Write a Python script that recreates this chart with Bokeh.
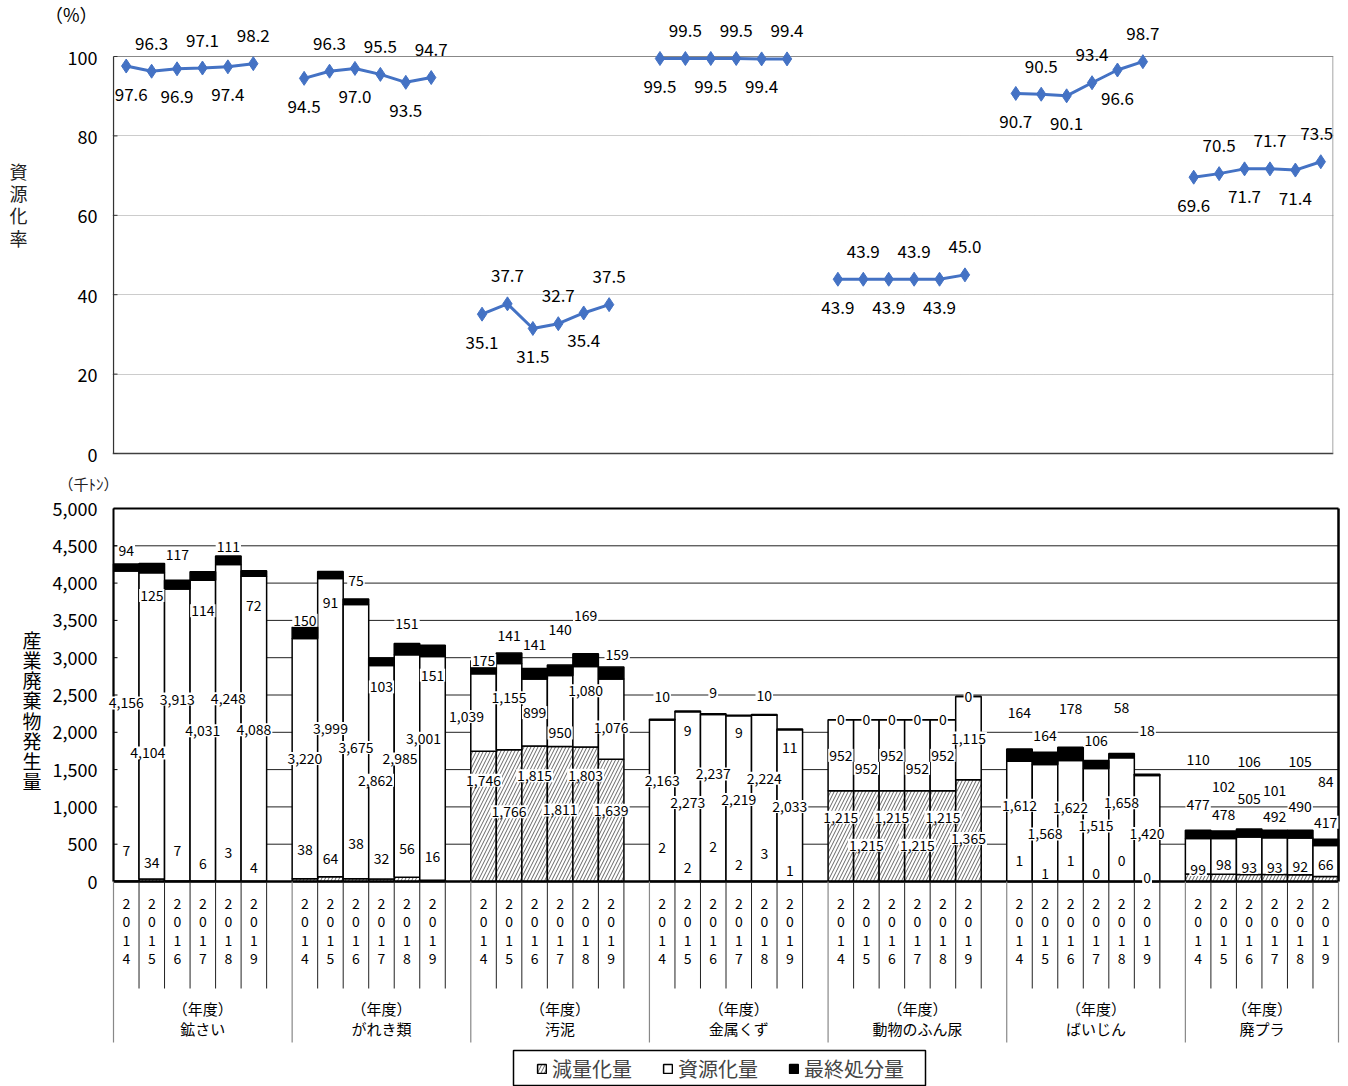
from bokeh.plotting import figure
from bokeh.models import (Range1d, FixedTicker, NumeralTickFormatter, LinearAxis,
                          Legend, LegendItem, ColumnDataSource)
from bokeh.layouts import column, row
from bokeh.embed import file_html
from bokeh.resources import INLINE
from bokeh.core.properties import value

FONT = "Noto Sans CJK JP"

# ---------------- data ----------------
categories = ["鉱さい", "がれき類", "汚泥", "金属くず", "動物のふん尿", "ばいじん", "廃プラ"]
years = ["2014", "2015", "2016", "2017", "2018", "2019"]

# 減量化量 (thousand t)
reduction = [
    [7, 34, 7, 6, 3, 4],
    [38, 64, 38, 32, 56, 16],
    [1746, 1766, 1815, 1811, 1803, 1639],
    [2, 2, 2, 2, 3, 1],
    [1215, 1215, 1215, 1215, 1215, 1365],
    [1, 1, 1, 0, 0, 0],
    [99, 98, 93, 93, 92, 66],
]
# 資源化量
resource = [
    [4156, 4104, 3913, 4031, 4248, 4088],
    [3220, 3999, 3675, 2862, 2985, 3001],
    [1039, 1155, 899, 950, 1080, 1076],
    [2163, 2273, 2237, 2219, 2224, 2033],
    [952, 952, 952, 952, 952, 1115],
    [1612, 1568, 1622, 1515, 1658, 1420],
    [477, 478, 505, 492, 490, 417],
]
# 最終処分量
final = [
    [94, 125, 117, 114, 111, 72],
    [150, 91, 75, 103, 151, 151],
    [175, 141, 141, 140, 169, 159],
    [10, 9, 9, 9, 10, 11],
    [0, 0, 0, 0, 0, 0],
    [164, 164, 178, 106, 58, 18],
    [110, 102, 106, 101, 105, 84],
]
# 資源化率 (%)
rate = [
    [97.6, 96.3, 96.9, 97.1, 97.4, 98.2],
    [94.5, 96.3, 97.0, 95.5, 93.5, 94.7],
    [35.1, 37.7, 31.5, 32.7, 35.4, 37.5],
    [99.5, 99.5, 99.5, 99.5, 99.4, 99.4],
    [43.9, 43.9, 43.9, 43.9, 43.9, 45.0],
    [90.7, 90.5, 90.1, 93.4, 96.6, 98.7],
    [69.6, 70.5, 71.7, 71.7, 71.4, 73.5],
]

# ---------------- label layout (styling, separate from data) ----------------
LABEL_ANCHOR = {
    "鉱さい":       dict(fin="top", res="mid", red="base"),
    "がれき類":     dict(fin="top", res="mid", red="base"),
    "汚泥":         dict(fin="top", res="mid", red="mid"),
    "金属くず":     dict(fin="top", res="mid", red="base"),
    "動物のふん尿": dict(fin="top", res="mid", red="mid"),
    "ばいじん":     dict(fin="top", res="mid", red="base"),
    "廃プラ":       dict(fin="top", res="top", red="base"),
}
LABEL_SHIFT = {  # upward shift in screen pixels
    "鉱さい":       dict(fin=[13, -32, 26, -39, 10, -35], res=[23, -27, 36, 0, 24, -1], red=[31, 19, 31, 18, 29, 14]),
    "がれき類":     dict(fin=[7, -31, 18, -29, 20, -30], res=[0, -1, -6, -8, 7, 30], red=[32, 23, 38, 23, 33, 25]),
    "汚泥":         dict(fin=[0, 18, 24, 36, 38, 13], res=[-4, 9, 0, -22, 16, -8], red=[36, 4, 38, 4, 39, 10]),
    "金属くず":     dict(fin=[23, -19, 21, -17, 19, -19], res=[20, -6, 24, -1, 20, -1], red=[34, 14, 35, 17, 28, 11]),
    "動物のふん尿": dict(fin=[0, 0, 0, 0, 0, 0], res=[0, -13, 0, -13, 0, 0], red=[19, -9, 19, -9, 19, -8]),
    "ばいじん":     dict(fin=[36, 17, 39, 20, 46, 44], res=[16, -11, 13, -1, 17, -5], red=[21, 8, 21, 8, 21, 4]),
    "廃プラ":       dict(fin=[71, 44, 67, 40, 69, 58], res=[26, 16, 30, 14, 24, 17], red=[12, 17, 14, 14, 15, 17]),
}
LABEL_NUDGE_X = {("汚泥", "res", 0): -17, ("鉱さい", "res", 1): -4, ("がれき類", "res", 3): -6,
                 ("がれき類", "res", 4): -7, ("がれき類", "res", 5): -9, ("汚泥", "fin", 5): 6}

GROUP = 7
NSLOT = 48
BLUE = "#4472C4"
PAGE_W = 1348
LEFT_W = 30


def slot(g, i):
    return g * GROUP + i


def strip(w, h):
    f = figure(width=w, height=h, output_backend="svg", toolbar_location=None,
               x_range=Range1d(0, w), y_range=Range1d(h, 0),
               x_axis_location=None, y_axis_location=None, min_border=0)
    f.outline_line_color = None
    f.grid.visible = False
    return f


def strip_text(f, x, y, txt, size):
    f.text(x=[x], y=[y], text=[txt], text_font=value(FONT), text_font_size=size,
           text_align="center", text_baseline="middle", text_color="#222222")


# ---------------- top chart (rate) ----------------
H1 = 468
T_SW = 1220 / NSLOT
T_PPU = 3.97
T_FL = 112
T_FW = 1333 - T_FL
T_L = T_FL - LEFT_W
T_R = PAGE_W - LEFT_W - T_L - T_FW
T_B = H1 - 455
T_Y0 = -0.5
T_Y1 = T_Y0 + 455 / T_PPU
T_X0 = -0.5 - (113 - T_FL) / T_SW
T_X1 = T_X0 + T_FW / T_SW
PCT_TICK = 110.8                # position of the "（%）" unit caption on the rate axis

p1 = figure(width=PAGE_W - LEFT_W, height=H1, output_backend="svg", toolbar_location=None,
            x_range=Range1d(T_X0, T_X1), y_range=Range1d(T_Y0, T_Y1),
            x_axis_location=None, min_border_left=T_L, min_border_right=T_R,
            min_border_top=0, min_border_bottom=T_B)
p1.outline_line_color = None
p1.xgrid.visible = False
p1.ygrid.ticker = FixedTicker(ticks=[20, 40, 60, 80])
p1.ygrid.grid_line_color = "#999999"
p1.ygrid.grid_line_dash = "1 1"
rate_ticks = [0, 20, 40, 60, 80, 100]
yax = p1.yaxis[0]
yax.ticker = FixedTicker(ticks=rate_ticks + [PCT_TICK])
yax.bounds = (0, PCT_TICK)
yax.major_label_overrides = {PCT_TICK: "（%）"}
yax.major_label_text_font = FONT
yax.major_label_text_font_size = "18px"
yax.major_label_text_color = "black"
yax.major_label_standoff = 15
yax.major_tick_in = 0
yax.major_tick_out = 0
yax.major_tick_line_color = None
yax.minor_tick_line_color = None
yax.axis_line_color = None

p1.segment(x0=[-0.5, -0.5, T_X0, NSLOT - 0.52], y0=[0, 100, 0, 0],
           x1=[-0.5, NSLOT - 0.5, NSLOT - 0.5, NSLOT - 0.52], y1=[100, 100, 0, 100],
           line_color=["#333333", "#888888", "#404040", "#888888"], line_width=[1.3, 1, 1.5, 1])
p1.segment(x0=[-0.5] * len(rate_ticks), y0=rate_ticks, x1=[-0.5 + 4 / T_SW] * len(rate_ticks),
           y1=rate_ticks, line_color="#333333", line_width=1)

lx, ly, lt, lo, lxo = [], [], [], [], []
for g in range(len(categories)):
    xs = [slot(g, i) for i in range(6)]
    p1.line(xs, rate[g], line_color=BLUE, line_width=3)
    p1.scatter(xs, rate[g], marker="diamond", size=14, fill_color=BLUE, line_color=BLUE)
    for i in range(6):
        lx.append(xs[i]); ly.append(rate[g][i]); lt.append(f"{rate[g][i]:.1f}")
        lo.append(28 if i % 2 == 0 else -28)
        lxo.append(5 if xs[i] == 0 else (-4 if xs[i] == NSLOT - 1 else 0))
p1.text(x="x", y="y", text="t", y_offset="o", x_offset="xo",
        source=ColumnDataSource(dict(x=lx, y=ly, t=lt, o=lo, xo=lxo)),
        text_font=value(FONT), text_font_size="17px", text_color="black",
        text_align="center", text_baseline="middle")

left_top = strip(LEFT_W, H1)
for k, ch in enumerate("資源化率"):
    strip_text(left_top, 18, 175 + 23 * k, ch, "18px")

# ---------------- middle strip ----------------
P2_Y = 494
s_mid = strip(PAGE_W, P2_Y - H1)
strip_text(s_mid, 88, 483 - H1, "（千ﾄﾝ）", "15px")

# ---------------- bottom chart (amounts) ----------------
H2 = 1086 - P2_Y
B_SW = 1225 / NSLOT
B_PPU = 373 / 5000
B_FL = 100
B_FW = 1340 - B_FL
B_R = PAGE_W - B_FL - B_FW
B_X0 = -0.5 - (113 - B_FL) / B_SW
B_X1 = B_X0 + B_FW / B_SW
B_Y0 = -(1086 - 881) / B_PPU
B_Y1 = 5000 + (508 - P2_Y) / B_PPU


def bx(px):
    return -0.5 + (px - 113) / B_SW


def by(py):
    return (881 - py) / B_PPU


p2 = figure(width=PAGE_W, height=H2, output_backend="svg", toolbar_location=None,
            x_range=Range1d(B_X0, B_X1), y_range=Range1d(B_Y0, B_Y1),
            x_axis_location=None, min_border_left=B_FL, min_border_right=B_R,
            min_border_top=0, min_border_bottom=0)
p2.outline_line_color = None
p2.grid.visible = False
amount_ticks = list(range(0, 5001, 500))
yb = p2.yaxis[0]
yb.ticker = FixedTicker(ticks=amount_ticks)
yb.bounds = (0, 5000)
yb.formatter = NumeralTickFormatter(format="0,0")
yb.major_label_text_font = FONT
yb.major_label_text_font_size = "18px"
yb.major_label_text_color = "black"
yb.major_label_standoff = 3
yb.major_tick_in = 0
yb.major_tick_out = 0
yb.major_tick_line_color = None
yb.minor_tick_line_color = None
yb.axis_line_color = None
yb.axis_label_text_font = FONT
yb.axis_label_text_font_style = "normal"
yb.axis_label_text_font_size = "19px"
yb.axis_label_text_color = "black"
if "axis_label_orientation" in LinearAxis.properties():
    # upright stacked characters; trailing blank lines lift the block to sit beside the bars
    yb.axis_label = "\n".join("産業廃棄物発生量") + "\n\u3000" * 8
    yb.axis_label_orientation = "horizontal"
    yb.axis_label_text_line_height = 0.745
    yb.axis_label_standoff = 8
else:
    yb.axis_label = "産業廃棄物発生量"
    yb.axis_label_standoff = 8

grid_vals = amount_ticks[1:-1]
p2.segment(x0=[-0.5] * len(grid_vals), y0=grid_vals, x1=[NSLOT - 0.5] * len(grid_vals), y1=grid_vals,
           line_color="#222222", line_width=1)

xs_all, red_all, res_top, tot_all = [], [], [], []
for g in range(len(categories)):
    for i in range(6):
        xs_all.append(slot(g, i))
        r, s, f = reduction[g][i], resource[g][i], final[g][i]
        red_all.append(r); res_top.append(r + s); tot_all.append(r + s + f)

src = ColumnDataSource(dict(x=xs_all, red=red_all, res=res_top, tot=tot_all))
r_red = p2.vbar(x="x", bottom=0, top="red", width=1, source=src, fill_color="white",
                hatch_pattern="/", hatch_color="#666666", hatch_scale=7, hatch_weight=1,
                line_color="black", line_width=1.5)
r_res = p2.vbar(x="x", bottom="red", top="res", width=1, source=src, fill_color="white",
                line_color="black", line_width=1.5)
r_fin = p2.vbar(x="x", bottom="res", top="tot", width=1, source=src, fill_color="black",
                line_color="black", line_width=1.5)

p2.segment(x0=[-0.5, -0.5, -0.5, NSLOT - 0.5], y0=[0, 5000, 0, 0],
           x1=[NSLOT - 0.5, NSLOT - 0.5, -0.5, NSLOT - 0.5], y1=[0, 5000, 5000, 5000],
           line_color="black", line_width=[2.5, 2, 2, 2.5])
p2.segment(x0=[-0.5] * len(amount_ticks), y0=amount_ticks, x1=[-0.5 + 4 / B_SW] * len(amount_ticks),
           y1=amount_ticks, line_color="black", line_width=1)

gx = [g * GROUP - 0.5 for g in range(len(categories))] + [NSLOT - 0.5]
p2.segment(x0=gx, y0=[0] * len(gx), x1=gx, y1=[by(1042)] * len(gx),
           line_color="#888888", line_width=1.2)
sx = []
for g in range(len(categories)):
    for k in range(1, GROUP):
        v = g * GROUP - 0.5 + k
        if v < NSLOT - 0.5:
            sx.append(v)
p2.segment(x0=sx, y0=[0] * len(sx), x1=sx, y1=[by(988)] * len(sx),
           line_color="#222222", line_width=1)

p2.text(x=xs_all, y=[by(930)] * len(xs_all),
        text=["\n".join(years[i]) for g in range(len(categories)) for i in range(6)],
        text_font=value(FONT), text_font_size="14px", text_line_height=0.93,
        text_align="center", text_baseline="middle", text_color="black")
cx = [g * GROUP + 3 for g in range(len(categories) - 1)] + [(len(categories) - 1) * GROUP + 2.5]
p2.text(x=cx, y=[by(1008)] * len(cx), text=["（年度）"] * len(cx),
        text_font=value(FONT), text_font_size="15px", text_align="center",
        text_baseline="middle", text_color="black")
p2.text(x=cx, y=[by(1028)] * len(cx), text=categories,
        text_font=value(FONT), text_font_size="15px", text_align="center",
        text_baseline="middle", text_color="black")

dx, dy, dt, do, dxo = [], [], [], [], []
for g, cat in enumerate(categories):
    anc, shift = LABEL_ANCHOR[cat], LABEL_SHIFT[cat]
    for i in range(6):
        r, s, f = reduction[g][i], resource[g][i], final[g][i]
        tot = r + s + f
        anchors = {
            "fin": {"top": tot},
            "res": {"mid": r + s / 2, "top": tot},
            "red": {"mid": r / 2, "base": 0},
        }
        vals = {"fin": f, "res": s, "red": r}
        for key in ("red", "res", "fin"):
            dx.append(slot(g, i))
            dy.append(anchors[key][anc[key]])
            dt.append(f"{vals[key]:,}")
            do.append(-shift[key][i])
            dxo.append(LABEL_NUDGE_X.get((cat, key, i), 0))
p2.text(x="x", y="y", text="t", y_offset="o", x_offset="xo",
        source=ColumnDataSource(dict(x=dx, y=dy, t=dt, o=do, xo=dxo)),
        text_font=value(FONT), text_font_size="14px", text_color="black",
        text_align="center", text_baseline="middle",
        background_fill_color="white", padding=1)

p2.quad(left=[bx(513)], right=[bx(925)], bottom=[by(1085)], top=[by(1050)],
        fill_color="white", line_color="black", line_width=1.5)
legend = Legend(items=[LegendItem(label="減量化量", renderers=[r_red]),
                       LegendItem(label="資源化量", renderers=[r_res]),
                       LegendItem(label="最終処分量", renderers=[r_fin])],
                orientation="horizontal", location=(536 - B_FL, 1086 - 1083),
                label_text_font=FONT, label_text_font_size="20px",
                glyph_width=11, glyph_height=11, label_standoff=5, spacing=30,
                padding=4, margin=0, border_line_color=None,
                background_fill_alpha=0)
p2.add_layout(legend, "center")

layout = column(row(left_top, p1, spacing=0), row(s_mid), row(p2), spacing=0)
open("out.html", "w").write(file_html(layout, INLINE))
